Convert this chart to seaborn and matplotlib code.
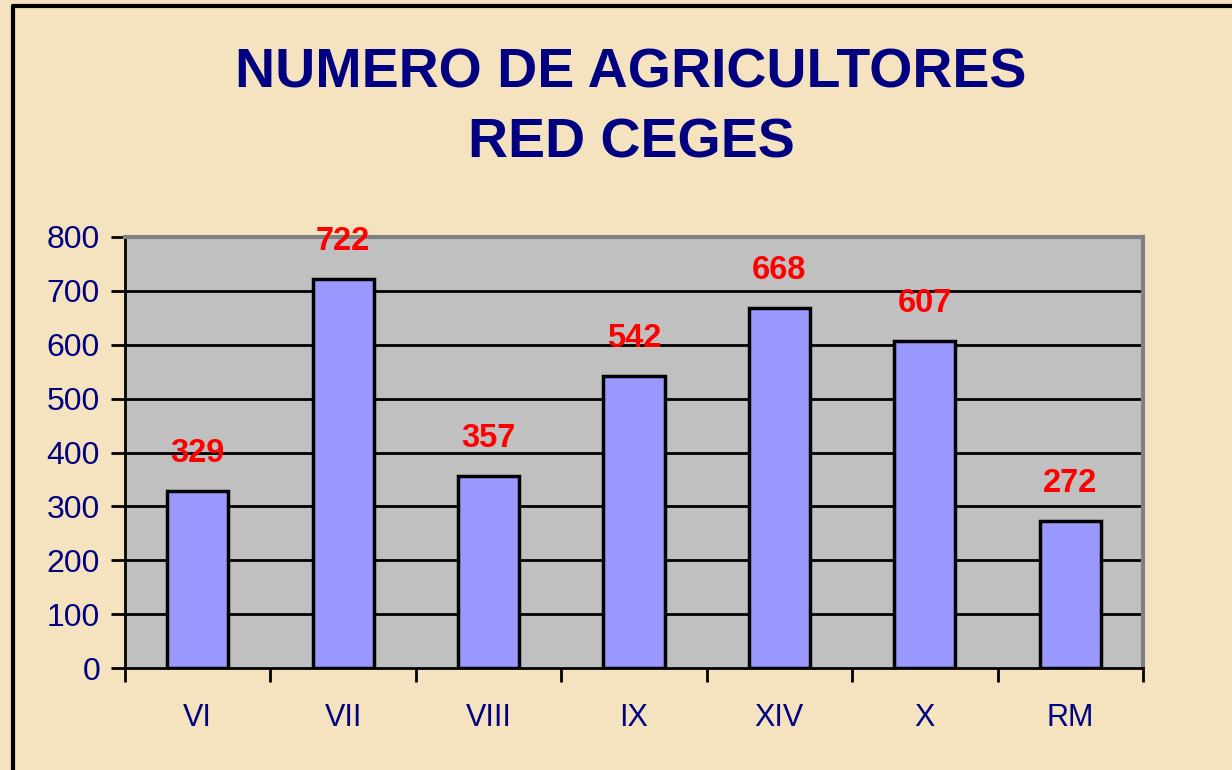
import matplotlib
matplotlib.use("Agg")
import matplotlib.pyplot as plt
import seaborn as sns
import pandas as pd
from matplotlib.lines import Line2D

# donnees du graphique
regiones = ["VI", "VII", "VIII", "IX", "XIV", "X", "RM"]
agricultores = [329, 722, 357, 542, 668, 607, 272]

df = pd.DataFrame({"region": regiones, "n": agricultores})

sns.set_style("white")
plt.rcParams["font.family"] = ["Liberation Sans", "DejaVu Sans"]

fond = "#F4E3BE"
bleu = "#000080"

fig = plt.figure(figsize=(12.32, 7.7), dpi=100, facecolor=fond)
ax = fig.add_axes([125 / 1232, 1 - 668 / 770, 1018 / 1232, 431 / 770])
ax.set_facecolor("#C0C0C0")

sns.barplot(data=df, x="region", y="n", color="#9999FF", saturation=1,
            width=0.42, edgecolor="black", linewidth=2.5, ax=ax, zorder=3)

ax.set_xlim(-0.5, len(regiones) - 0.5)
ax.set_ylim(0, 800)
ax.set_yticks(range(0, 801, 100))
for y in range(100, 800, 100):
    ax.axhline(y, color="black", lw=2, zorder=1)

# etiquettes des valeurs
for i, v in enumerate(agricultores):
    ax.annotate(str(v), (i, v), xytext=(0, 27), textcoords="offset points",
                ha="center", va="center", color="red", fontsize=23.5,
                fontweight="bold", zorder=5, annotation_clip=False)

# axes
ax.set_xlabel("")
ax.set_ylabel("")
for s in ["top", "right"]:
    ax.spines[s].set_color("#808080")
    ax.spines[s].set_linewidth(3)
for s in ["left", "bottom"]:
    ax.spines[s].set_color("black")
    ax.spines[s].set_linewidth(2)
ax.spines["bottom"].set_zorder(4)

ax.tick_params(axis="y", left=True, direction="out", length=10, width=2,
               color="black", labelcolor=bleu, labelsize=23, pad=8)
ax.tick_params(axis="x", which="major", bottom=True, length=0,
               labelcolor=bleu, labelsize=22, pad=25)
ax.set_xticks([i - 0.5 for i in range(len(regiones) + 1)], minor=True)
ax.tick_params(axis="x", which="minor", bottom=True, direction="out",
               length=10, width=2, color="black")

# titre
fig.text(631 / 1232, 1 - 74 / 770, "NUMERO DE AGRICULTORES", ha="center",
         va="center", color=bleu, fontsize=40, fontweight="bold")
fig.text(631 / 1232, 1 - 144 / 770, "RED CEGES", ha="center",
         va="center", color=bleu, fontsize=40, fontweight="bold")

# cadre
fig.add_artist(Line2D([13 / 1232, 13 / 1232], [0, 1 - 6 / 770], color="black",
                      lw=3, transform=fig.transFigure))
fig.add_artist(Line2D([13 / 1232, 1], [1 - 6 / 770, 1 - 6 / 770], color="black",
                      lw=3, transform=fig.transFigure))

plt.savefig("out.png", dpi=100, facecolor=fond)
